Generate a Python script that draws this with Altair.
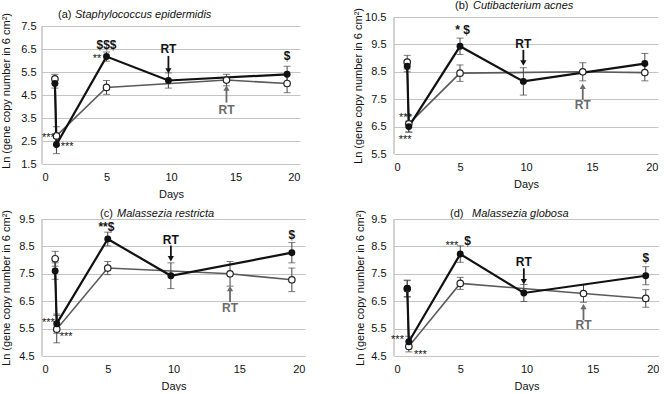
import altair as alt
import pandas as pd

FONT = "Liberation Sans"
Y_TITLE = "Ln (gene copy number in 6 cm²)"

# sampling days (filled = black series, open = white series)
DAYS_FILLED = [1.0, 1.12, 5.0, 9.8, 19.0]
DAYS_OPEN = [1.0, 1.12, 5.0, 14.3, 19.0]
X_TICKS = [0, 5, 10, 15, 20]
RT_BLACK_DAY = 9.8
RT_GRAY_DAY = 14.3

# (a) Staphylococcus epidermidis
A_TICKS = [1.5, 2.5, 3.5, 4.5, 5.5, 6.5, 7.5]
A_F = [5.0, 2.35, 6.17, 5.13, 5.4]
A_F_ERR = [0.2, 0.4, 0.2, 0.33, 0.35]
A_O = [5.2, 2.72, 4.83, 5.15, 5.0]
A_O_ERR = [0.2, 0.4, 0.3, 0.25, 0.4]
A_ANN = [("***", 1.0, 2.75, "right"), ("***", 1.45, 2.35, "left"),
         ("**", 4.6, 6.2, "right"), ("$$$", 5.0, 6.67, "center"),
         ("$", 19.0, 6.2, "center")]
A_RT_BLACK = [6.51, 6.2, 5.55]   # label, arrow start, arrow tip
A_RT_GRAY = [3.85, 4.17, 4.8]

# (b) Cutibacterium acnes
B_TICKS = [5.5, 6.5, 7.5, 8.5, 9.5, 10.5]
B_F = [8.7, 6.5, 9.43, 8.15, 8.8]
B_F_ERR = [0.2, 0.2, 0.3, 0.5, 0.37]
B_O = [8.85, 6.6, 8.45, 8.5, 8.47]
B_O_ERR = [0.25, 0.3, 0.3, 0.33, 0.3]
B_ANN = [("***", 1.35, 6.92, "right"), ("***", 0.85, 6.12, "center"),
         ("* $", 5.2, 10.02, "center")]
B_RT_BLACK = [9.5, 9.3, 8.82]
B_RT_GRAY = [7.3, 7.48, 7.97]

# (c) Malassezia restricta
C_TICKS = [4.5, 5.5, 6.5, 7.5, 8.5, 9.5]
C_F = [7.6, 5.68, 8.77, 7.43, 8.27]
C_F_ERR = [0.3, 0.35, 0.25, 0.47, 0.37]
C_O = [8.05, 5.48, 7.71, 7.5, 7.28]
C_O_ERR = [0.27, 0.5, 0.24, 0.45, 0.43]
C_ANN = [("***", 0.97, 5.81, "right"), ("***", 1.35, 5.3, "left"),
         ("**$", 4.9, 9.2, "center"), ("$", 19.0, 8.9, "center")]
C_RT_BLACK = [8.75, 8.53, 8.05]
C_RT_GRAY = [6.26, 6.47, 6.96]

# (d) Malassezia globosa
D_TICKS = [4.5, 5.5, 6.5, 7.5, 8.5, 9.5]
D_F = [6.97, 5.02, 8.22, 6.8, 7.43]
D_F_ERR = [0.3, 0.2, 0.3, 0.31, 0.33]
D_O = [6.95, 4.85, 7.15, 6.78, 6.6]
D_O_ERR = [0.3, 0.2, 0.22, 0.32, 0.32]
D_ANN = [("***", 0.75, 5.2, "right"), ("***", 1.5, 4.66, "left"),
         ("***", 4.85, 8.64, "right"), ("$", 5.55, 8.7, "center"),
         ("$", 19.0, 8.09, "center")]
D_RT_BLACK = [7.92, 7.7, 7.21]
D_RT_GRAY = [5.63, 5.81, 6.3]

INK = "#111111"
GRAY = "#6a6a6a"


def panel(letter, species, ticks, f, f_err, o, o_err, ann, rt_b, rt_g,
          width, height, tx, ty, sx, top_gap=0, lpad=6, tpad=9):
    # top_gap: empty pixels kept above the top gridline (to lower this panel's frame)
    per_px = (ticks[-1] - ticks[0]) / height
    ymax = ticks[-1] + top_gap * per_px
    x = alt.X("day:Q", scale=alt.Scale(domain=[0, 20], nice=False),
              axis=alt.Axis(values=X_TICKS, title="Days", grid=False, domain=False,
                            ticks=False, labelPadding=7, titlePadding=6,
                            labelFontSize=11, titleFontSize=11))
    y = alt.Y("val:Q", scale=alt.Scale(domain=[ticks[0], ymax], nice=False, zero=False),
              axis=alt.Axis(values=ticks, format=".1f", title=Y_TITLE, grid=True,
                            gridColor="#c4c4c4", domain=False, ticks=False,
                            labelPadding=lpad, titlePadding=tpad, labelFontSize=11,
                            titleFontSize=11))

    df_f = pd.DataFrame({"day": DAYS_FILLED, "val": f})
    df_o = pd.DataFrame({"day": DAYS_OPEN, "val": o})
    err = pd.DataFrame({
        "day": DAYS_OPEN + DAYS_FILLED,
        "val": [m - e for m, e in zip(o, o_err)] + [m - e for m, e in zip(f, f_err)],
        "val2": [m + e for m, e in zip(o, o_err)] + [m + e for m, e in zip(f, f_err)],
    })
    caps = pd.DataFrame({"day": list(err["day"]) * 2,
                         "val": list(err["val"]) + list(err["val2"])})

    layers = []
    # left frame line of the plot area (from lowest to highest tick)
    frame = pd.DataFrame({"day": [0], "val": [ticks[0]], "val2": [ticks[-1]]})
    layers.append(alt.Chart(frame).mark_rule(color="#a6a6a6", strokeWidth=1).encode(
        x=x, y=y, y2="val2:Q"))
    layers.append(alt.Chart(df_o).mark_line(color="#5a5a5a", strokeWidth=1.6).encode(x=x, y=y))
    layers.append(alt.Chart(err).mark_rule(color="#444", strokeWidth=1).encode(x=x, y=y, y2="val2:Q"))
    layers.append(alt.Chart(caps).mark_tick(color="#444", orient="horizontal", size=7,
                                            thickness=1).encode(x=x, y=y))
    layers.append(alt.Chart(df_f).mark_line(color=INK, strokeWidth=2.2).encode(x=x, y=y))
    layers.append(alt.Chart(df_o).mark_point(shape="circle", filled=True, fill="white",
                                             stroke="#222", strokeWidth=1.2, size=42,
                                             opacity=1).encode(x=x, y=y))
    layers.append(alt.Chart(df_f).mark_point(shape="circle", filled=True, color=INK,
                                             size=48, opacity=1).encode(x=x, y=y))

    # significance annotations
    adf = pd.DataFrame(ann, columns=["label", "day", "val", "align"])
    for al in ["left", "right", "center"]:
        for bold in [False, True]:
            sub = adf[(adf["align"] == al) & (adf["label"].str.contains(r"\$") == bold)]
            if len(sub) == 0:
                continue
            layers.append(alt.Chart(sub[["label", "day", "val"]]).mark_text(
                align=al, baseline="middle", font=FONT,
                fontSize=12 if bold else 11, fontWeight="bold" if bold else "normal",
                dy=0 if bold else 3).encode(x=x, y=y, text="label:N",
                                            color=alt.value(INK)))

    # RT arrows
    rb = pd.DataFrame({"day": [RT_BLACK_DAY], "val": [rt_b[0]], "label": ["RT"]})
    layers.append(alt.Chart(rb).mark_text(font=FONT, fontSize=12, fontWeight="bold").encode(
        x=x, y=y, text="label:N", color=alt.value(INK)))
    rbl = pd.DataFrame({"day": [RT_BLACK_DAY], "val": [rt_b[1]], "val2": [rt_b[2]]})
    layers.append(alt.Chart(rbl).mark_rule(color=INK, strokeWidth=1.8).encode(x=x, y=y, y2="val2:Q"))
    rbt = pd.DataFrame({"day": [RT_BLACK_DAY], "val": [rt_b[2]]})
    layers.append(alt.Chart(rbt).mark_point(shape="triangle-down", filled=True, color=INK,
                                            size=38, opacity=1).encode(x=x, y=y))

    rg = pd.DataFrame({"day": [RT_GRAY_DAY], "val": [rt_g[0]], "label": ["RT"]})
    layers.append(alt.Chart(rg).mark_text(font=FONT, fontSize=12, fontWeight="bold").encode(
        x=x, y=y, text="label:N", color=alt.value(GRAY)))
    rgl = pd.DataFrame({"day": [RT_GRAY_DAY], "val": [rt_g[1]], "val2": [rt_g[2]]})
    layers.append(alt.Chart(rgl).mark_rule(color=GRAY, strokeWidth=1.8).encode(x=x, y=y, y2="val2:Q"))
    rgt = pd.DataFrame({"day": [RT_GRAY_DAY], "val": [rt_g[2]]})
    layers.append(alt.Chart(rgt).mark_point(shape="triangle-up", filled=True, color=GRAY,
                                            size=38, opacity=1).encode(x=x, y=y))

    # panel title: "(x)" upright + italic species name
    layers.append(alt.Chart(pd.DataFrame({"t": [f"({letter})"]})).mark_text(
        align="left", baseline="middle", font=FONT, fontSize=11).encode(
        x=alt.value(tx), y=alt.value(ty + top_gap), text="t:N", color=alt.value(INK)))
    layers.append(alt.Chart(pd.DataFrame({"t": [species]})).mark_text(
        align="left", baseline="middle", font=FONT, fontSize=11, fontStyle="italic").encode(
        x=alt.value(sx), y=alt.value(ty + top_gap), text="t:N", color=alt.value(INK)))

    return alt.layer(*layers).properties(width=width, height=height + top_gap)


pa = panel("a", "Staphylococcus epidermidis", A_TICKS, A_F, A_F_ERR, A_O, A_O_ERR, A_ANN,
           A_RT_BLACK, A_RT_GRAY, 258, 138, 16, -11, 33, top_gap=9, lpad=6, tpad=9)
pb = panel("b", "Cutibacterium acnes", B_TICKS, B_F, B_F_ERR, B_O, B_O_ERR, B_ANN,
           B_RT_BLACK, B_RT_GRAY, 264, 137, 61, -11, 79, lpad=8, tpad=1)
pc = panel("c", "Malassezia restricta", C_TICKS, C_F, C_F_ERR, C_O, C_O_ERR, C_ANN,
           C_RT_BLACK, C_RT_GRAY, 263, 137, 58, -5, 75, lpad=8, tpad=7)
pd_ = panel("d", "Malassezia globosa", D_TICKS, D_F, D_F_ERR, D_O, D_O_ERR, D_ANN,
            D_RT_BLACK, D_RT_GRAY, 265, 137, 56, -5, 78, lpad=8, tpad=5)

row1 = alt.hconcat(pa, pb, spacing=52)
row2 = alt.hconcat(pc, pd_, spacing=49)
chart = alt.vconcat(row1, row2, spacing=9).properties(
    padding={"left": 0, "top": 0, "right": 0, "bottom": 0}, background="white"
).configure_view(stroke=None).configure_axis(
    labelFont=FONT, titleFont=FONT, labelColor=INK, titleColor=INK,
    titleFontWeight="normal"
).configure_text(font=FONT)

chart.save("out.html", embed_options={"renderer": "svg", "actions": False})
